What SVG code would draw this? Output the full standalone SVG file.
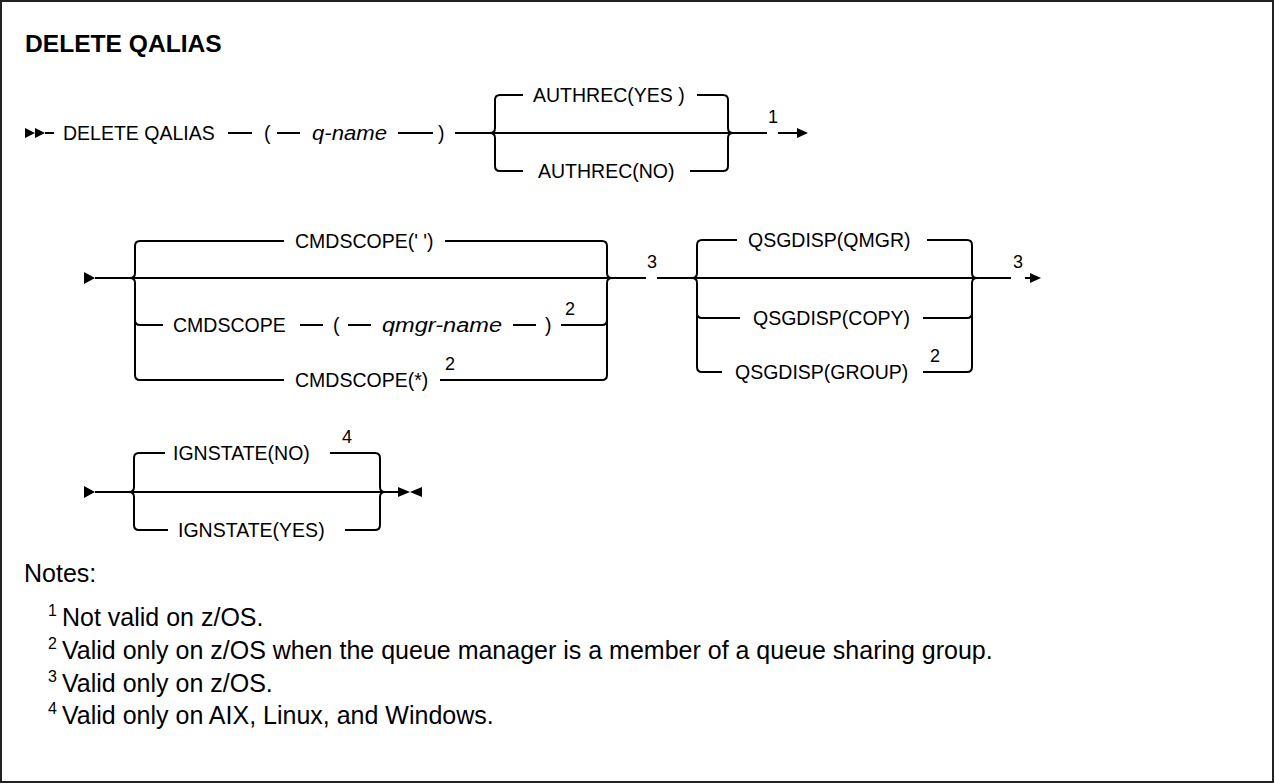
<svg xmlns="http://www.w3.org/2000/svg" width="1275" height="784" viewBox="0 0 1275 784">
<style>
.t{font-family:"Liberation Sans",Arial,sans-serif;font-size:19.5px;fill:#000}
.i{font-style:italic}
.s{font-family:"Liberation Sans",Arial,sans-serif;font-size:18px;fill:#000}
.ttl{font-family:"Liberation Sans",Arial,sans-serif;font-size:24.6px;font-weight:bold;fill:#000}
.n{font-family:"Liberation Sans",Arial,sans-serif;font-size:25px;fill:#000}
.ns{font-family:"Liberation Sans",Arial,sans-serif;font-size:16px;fill:#000}
.c path,.c line{fill:none;stroke:#000;stroke-width:2}
.c polygon{fill:#000;stroke:none}
</style>
<rect x="1" y="1" width="1272" height="781" fill="#fff" stroke="#222" stroke-width="2"/>
<text class="ttl" x="25" y="52">DELETE QALIAS</text>

<g id="connectors" class="c">
  <!-- row 1 -->
  <polygon points="25,128 35,133 25,138"/>
  <polygon points="35,128 45,133 35,138"/>
  <line x1="45" y1="133" x2="54" y2="133"/>
  <line x1="228" y1="133" x2="252" y2="133"/>
  <line x1="277" y1="133" x2="300" y2="133"/>
  <line x1="398" y1="133" x2="433" y2="133"/>
  <line x1="455" y1="133" x2="733" y2="133"/>
  <path d="M490,133 Q495,133 495,128 V100 Q495,95 500,95 H523"/>
  <path d="M490,133 Q495,133 495,138 V166 Q495,171 500,171 H523"/>
  <path d="M697,95 H723 Q728,95 728,100 V128 Q728,133 733,133"/>
  <path d="M690,171 H723 Q728,171 728,166 V138 Q728,133 733,133"/>
  <line x1="733" y1="133" x2="767" y2="133"/>
  <line x1="778" y1="133" x2="798" y2="133"/>
  <polygon points="797,128 808,133 797,138"/>

  <!-- row 2 -->
  <polygon points="84,272 95,278 84,284"/>
  <line x1="95" y1="278" x2="612" y2="278"/>
  <path d="M130,278 Q135,278 135,273 V246 Q135,241 140,241 H284"/>
  <path d="M130,278 Q135,278 135,283 V375 Q135,380 140,380 H284"/>
  <path d="M135,320 Q135,325 140,325 H163"/>
  <path d="M445,241 H602 Q607,241 607,246 V273 Q607,278 612,278"/>
  <path d="M440,380 H602 Q607,380 607,375 V283 Q607,278 612,278"/>
  <path d="M561,325 H602 Q607,325 607,320"/>
  <line x1="300" y1="325" x2="323" y2="325"/>
  <line x1="348" y1="325" x2="371" y2="325"/>
  <line x1="513" y1="325" x2="536" y2="325"/>
  <line x1="612" y1="278" x2="646" y2="278"/>
  <line x1="657" y1="278" x2="977" y2="278"/>
  <path d="M692,278 Q697,278 697,273 V245 Q697,240 702,240 H737"/>
  <path d="M692,278 Q697,278 697,283 V367 Q697,372 702,372 H722"/>
  <path d="M697,313 Q697,318 702,318 H740"/>
  <path d="M927,240 H967 Q972,240 972,245 V273 Q972,278 977,278"/>
  <path d="M923,372 H967 Q972,372 972,367 V283 Q972,278 977,278"/>
  <path d="M923,318 H967 Q972,318 972,313"/>
  <line x1="977" y1="278" x2="1011" y2="278"/>
  <line x1="1025" y1="278" x2="1031" y2="278"/>
  <polygon points="1030,273 1041,278 1030,283"/>

  <!-- row 3 -->
  <polygon points="84,486 95,492 84,498"/>
  <line x1="95" y1="492" x2="398" y2="492"/>
  <path d="M129,492 Q134,492 134,487 V458 Q134,453 139,453 H165"/>
  <path d="M129,492 Q134,492 134,497 V525 Q134,530 139,530 H168"/>
  <path d="M330,453 H375 Q380,453 380,458 V487 Q380,492 385,492"/>
  <path d="M345,530 H375 Q380,530 380,525 V497 Q380,492 385,492"/>
  <polygon points="398,487 410,492 398,497"/>
  <polygon points="422,487 410,492 422,497"/>
</g>

<g id="node-delete">
  <text class="t" x="63" y="140">DELETE QALIAS</text>
  <text class="t" x="264" y="140">(</text>
  <text class="t i" x="312" y="140" textLength="75" lengthAdjust="spacingAndGlyphs">q-name</text>
  <text class="t" x="438" y="140">)</text>
</g>
<g id="node-authrec">
  <text class="t" x="533" y="102">AUTHREC(YES )</text>
  <text class="t" x="538" y="178">AUTHREC(NO)</text>
  <text class="s" x="768" y="123">1</text>
</g>
<g id="node-cmdscope">
  <text class="t" x="295" y="248">CMDSCOPE(' ')</text>
  <text class="t" x="173" y="332">CMDSCOPE</text>
  <text class="t" x="333" y="332">(</text>
  <text class="t i" x="382" y="332" textLength="120" lengthAdjust="spacingAndGlyphs">qmgr-name</text>
  <text class="t" x="545" y="332">)</text>
  <text class="s" x="565" y="315">2</text>
  <text class="t" x="295" y="387">CMDSCOPE(*)</text>
  <text class="s" x="445" y="370">2</text>
  <text class="s" x="647" y="268">3</text>
</g>
<g id="node-qsgdisp">
  <text class="t" x="748" y="247">QSGDISP(QMGR)</text>
  <text class="t" x="753" y="325">QSGDISP(COPY)</text>
  <text class="t" x="735" y="379">QSGDISP(GROUP)</text>
  <text class="s" x="930" y="362">2</text>
  <text class="s" x="1013" y="268">3</text>
</g>
<g id="node-ignstate">
  <text class="t" x="173" y="460">IGNSTATE(NO)</text>
  <text class="s" x="342" y="443">4</text>
  <text class="t" x="178" y="537">IGNSTATE(YES)</text>
</g>
<g id="notes">
  <text class="n" x="24" y="582">Notes:</text>
  <text class="ns" x="48" y="616">1</text>
  <text class="n" x="62" y="626">Not valid on z/OS.</text>
  <text class="ns" x="48" y="649">2</text>
  <text class="n" x="62" y="659">Valid only on z/OS when the queue manager is a member of a queue sharing group.</text>
  <text class="ns" x="48" y="682">3</text>
  <text class="n" x="62" y="692">Valid only on z/OS.</text>
  <text class="ns" x="48" y="714">4</text>
  <text class="n" x="62" y="724">Valid only on AIX, Linux, and Windows.</text>
</g>
</svg>
